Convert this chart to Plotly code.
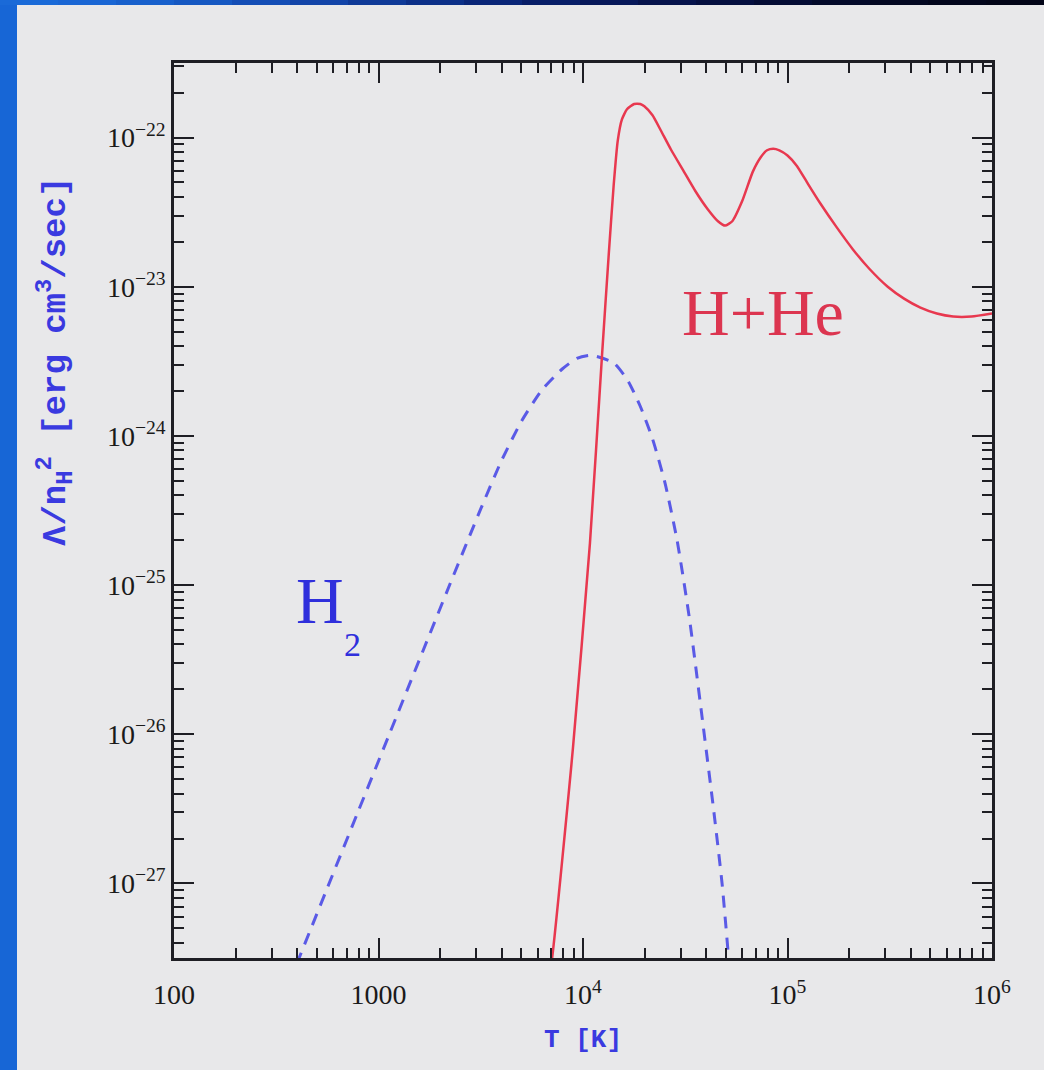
import plotly.graph_objects as go

# ---------------- data ----------------
# H2 cooling (blue dashed)
T_h2 = [398, 562, 794, 1122, 1585, 2239, 3162, 3981, 5012, 6310, 7943, 9333, 10965,
        14125, 16596, 19055, 21878, 25119, 28840, 33113, 38019, 43652, 47863, 51880]
L_h2 = [2.88e-28, 9.33e-28, 3.02e-27, 9.77e-27, 3.16e-26, 1.02e-25, 3.24e-25,
        6.76e-25, 1.26e-24, 2.04e-24, 2.82e-24, 3.31e-24, 3.47e-24, 3.09e-24,
        2.34e-24, 1.58e-24, 9.55e-25, 4.90e-25, 2.0e-25, 6.03e-26, 1.38e-26,
        3.02e-27, 1.0e-27, 2.82e-28]

# H+He cooling (red solid)
T_hhe = [6761, 7047, 8933, 10814, 12388, 13335, 14125, 14791, 15488, 16406,
         17783, 19055, 19953, 21878, 23988, 26915, 30903, 35481, 40738, 45709,
         49545, 53703, 60256, 67608, 74131, 79433, 85114, 91201, 100000, 111170,
         125893, 144544, 173780, 208930, 251189, 309030, 371535, 446684, 537032,
         645654, 794328, 1000000]
L_hhe = [2.34e-28, 3.09e-28, 8.13e-27, 1.91e-25, 3.47e-24, 1.58e-23, 4.79e-23,
         9.55e-23, 1.32e-22, 1.55e-22, 1.68e-22, 1.68e-22, 1.62e-22, 1.41e-22,
         1.12e-22, 8.32e-23, 6.03e-23, 4.37e-23, 3.31e-23, 2.75e-23, 2.57e-23,
         2.75e-23, 3.80e-23, 5.89e-23, 7.41e-23, 8.22e-23, 8.41e-23, 8.22e-23,
         7.59e-23, 6.46e-23, 4.90e-23, 3.63e-23, 2.51e-23, 1.78e-23, 1.32e-23,
         1.0e-23, 8.32e-24, 7.24e-24, 6.61e-24, 6.31e-24, 6.31e-24, 6.61e-24]

x_tickvals = [100, 1000, 1e4, 1e5, 1e6]
x_ticktext = ["100", "1000", "10<sup>4</sup>", "10<sup>5</sup>", "10<sup>6</sup>"]
y_tickvals = [1e-27, 1e-26, 1e-25, 1e-24, 1e-23, 1e-22]
y_ticktext = ["10<sup>\u221227</sup>", "10<sup>\u221226</sup>", "10<sup>\u221225</sup>",
              "10<sup>\u221224</sup>", "10<sup>\u221223</sup>", "10<sup>\u221222</sup>"]

# ---------------- figure ----------------
W, H = 1044, 1070
L_M, R_M, T_M, B_M = 174, 52, 63, 112
PW, PH = W - L_M - R_M, H - T_M - B_M

BLUE_TXT = "#3a3ae0"
RED = "#e8384f"

fig = go.Figure()
fig.add_trace(go.Scatter(x=T_h2, y=L_h2, mode="lines",
                         line=dict(color="#5a5ae6", width=3, dash="12px,9px",
                                   shape="spline", smoothing=0.6),
                         showlegend=False))
fig.add_trace(go.Scatter(x=T_hhe, y=L_hhe, mode="lines",
                         line=dict(color=RED, width=2.5, shape="spline", smoothing=0.5),
                         showlegend=False))

axis_common = dict(
    type="log", showgrid=False, zeroline=False,
    showline=True, linecolor="#1e1e24", linewidth=2.5, mirror="allticks",
    ticks="inside", ticklen=20, tickwidth=2, tickcolor="#1e1e24",
    minor=dict(ticks="inside", ticklen=10, tickwidth=2, tickcolor="#1e1e24",
               dtick="D1", showgrid=False),
    tickfont=dict(family="Liberation Serif", size=28, color="#1a1a1a"),
)

fig.update_xaxes(range=[2, 6], tickmode="array", tickvals=x_tickvals,
                 ticktext=x_ticktext, ticklabelstandoff=10, **axis_common)
fig.update_yaxes(range=[-27.5, -21.5], tickmode="array", tickvals=y_tickvals,
                 ticktext=y_ticktext, **axis_common)

# background blue slide frame (left and top strip)
shapes = []
def px2paper_x(px):
    return (px - L_M) / PW
def px2paper_y(py):
    return (H - B_M - py) / PH

shapes.append(dict(type="rect", xref="paper", yref="paper",
                   x0=px2paper_x(0), x1=px2paper_x(17), y0=px2paper_y(H), y1=px2paper_y(0),
                   fillcolor="#1766d6", line=dict(width=0), layer="below"))
top_cols = ["#1a6ad8", "#1a66d4", "#1860cc", "#1658c2", "#144eb6", "#1244a8",
            "#0f3a98", "#0c3088", "#0a2678", "#081e68", "#07185a", "#06134c",
            "#050f40", "#040c34", "#030a2a", "#030822", "#02061c", "#020518"]
n = len(top_cols)
for i, c in enumerate(top_cols):
    shapes.append(dict(type="rect", xref="paper", yref="paper",
                       x0=px2paper_x(W * i / n), x1=px2paper_x(W * (i + 1) / n + 1),
                       y0=px2paper_y(5), y1=px2paper_y(0),
                       fillcolor=c, line=dict(width=0), layer="below"))

annotations = [
    dict(text="H+He", x=4.88, y=-23.17, xref="x", yref="y", showarrow=False,
         font=dict(family="Liberation Serif", size=66, color="#dc3550")),
    dict(text="H", x=2.585, y=-25.10, xref="x", yref="y", showarrow=False,
         xanchor="left", font=dict(family="Liberation Serif", size=66, color="#2f2fdc")),
    dict(text="2", x=2.82, y=-25.40, xref="x", yref="y", showarrow=False,
         xanchor="left", font=dict(family="Liberation Serif", size=34, color="#2f2fdc")),
    dict(text="<b>T [K]</b>", x=0.5, y=px2paper_y(1040), xref="paper", yref="paper",
         xanchor="center", yanchor="middle",
         showarrow=False, font=dict(family="Liberation Mono", size=26, color=BLUE_TXT)),
    dict(text="<b>\u039b/n<sub>H</sub><sup>2</sup> [erg cm<sup>3</sup>/sec]</b>",
         x=px2paper_x(55), y=px2paper_y(362), xref="paper", yref="paper",
         xanchor="center", yanchor="middle",
         textangle=-90, showarrow=False,
         font=dict(family="Liberation Mono", size=34, color=BLUE_TXT)),
]

fig.update_layout(
    width=W, height=H,
    margin=dict(l=L_M, r=R_M, t=T_M, b=B_M),
    paper_bgcolor="#e8e8ea", plot_bgcolor="#e8e8ea",
    shapes=shapes, annotations=annotations,
    showlegend=False,
)

fig.write_html("out.html", config={"displayModeBar": False},
               post_script="document.body.style.margin='0';document.body.style.padding='0';")
